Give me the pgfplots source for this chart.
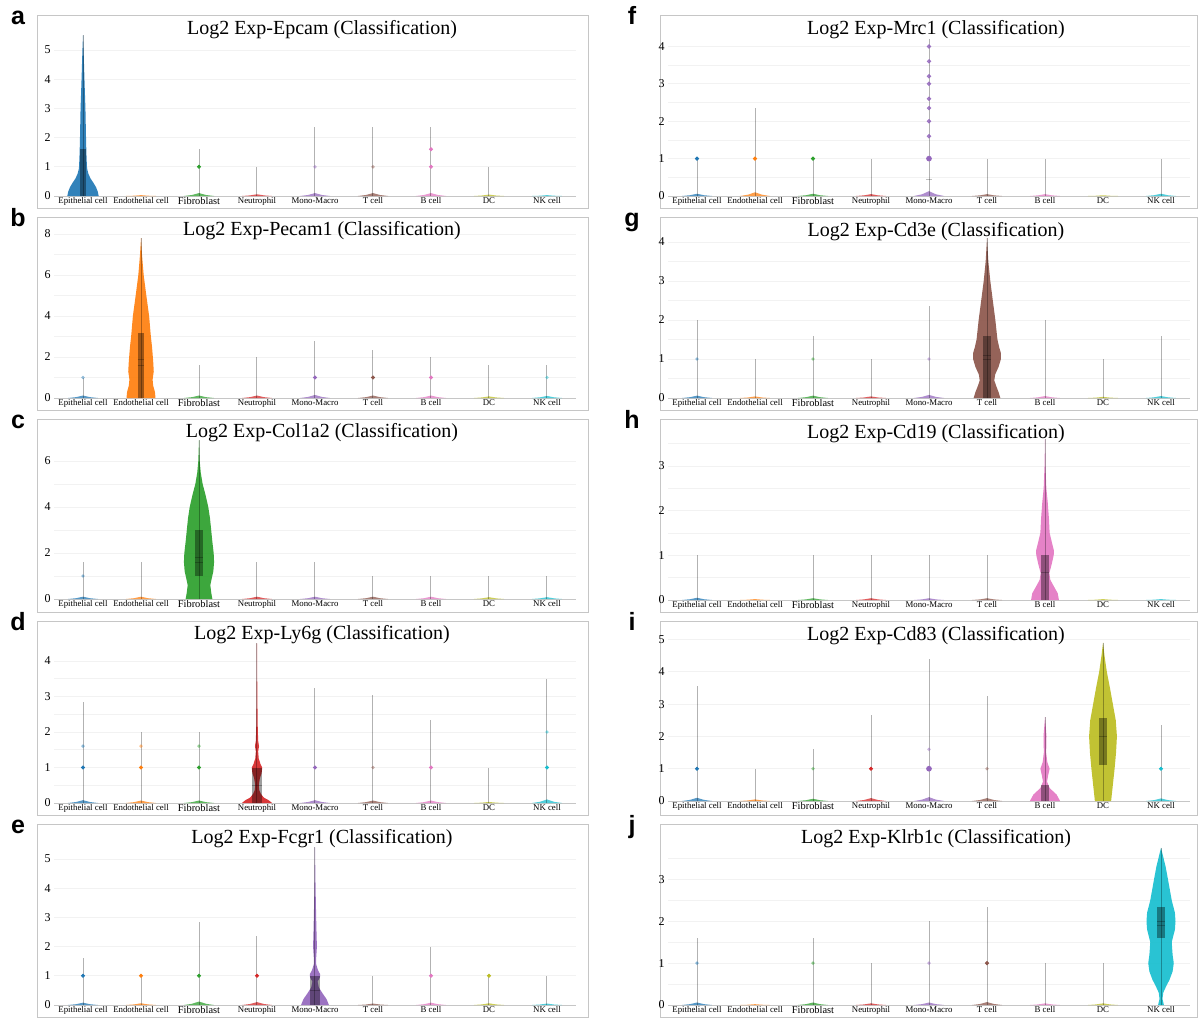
\documentclass[border=0pt]{standalone}
\usepackage{fontspec}
\setmainfont{Liberation Serif}
\newfontfamily\lsans{Liberation Sans}
\usepackage{pgfplots}
\usepackage{pgfplotstable}
\pgfplotsset{compat=1.18}
\definecolor{cA}{HTML}{1F77B4}
\definecolor{cB}{HTML}{FF7F0E}
\definecolor{cC}{HTML}{2CA02C}
\definecolor{cD}{HTML}{D62728}
\definecolor{cE}{HTML}{9467BD}
\definecolor{cF}{HTML}{8C564B}
\definecolor{cG}{HTML}{E377C2}
\definecolor{cH}{HTML}{BCBD22}
\definecolor{cI}{HTML}{17BECF}

% small flat violin template
\pgfplotstableread{
w h
-0.26 0
-0.12 0.35
0 1
0.12 0.35
0.26 0
}\vS
\pgfplotstableread{
y w
0 0
0 0.27
0.15 0.255
0.3 0.225
0.45 0.18
0.6 0.13
0.75 0.095
0.9 0.075
1.0 0.068
1.5 0.058
2.0 0.052
3.0 0.042
4.0 0.025
5.0 0.01
5.5 0
}\vA
\pgfplotstableread{
y w
0 0
0 0.25
0.3 0.24
0.6 0.21
0.9 0.2
1.3 0.22
1.8 0.21
2.5 0.19
3.0 0.17
4.0 0.14
5.0 0.092
6.0 0.046
7.0 0.017
7.8 0
}\vB
\pgfplotstableread{
y w
0 0
0 0.23
0.3 0.21
0.6 0.195
0.9 0.22
1.2 0.247
1.6 0.26
2.0 0.253
2.5 0.23
3.0 0.21
3.5 0.19
4.0 0.16
4.5 0.115
5.0 0.063
5.5 0.03
6.0 0.012
6.9 0
}\vC
\pgfplotstableread{
y w
0 0
0 0.26
0.08 0.2
0.15 0.12
0.25 0.07
0.35 0.04
0.5 0.03
0.7 0.05
0.85 0.08
1.0 0.09
1.1 0.06
1.25 0.03
1.45 0.02
1.6 0.035
1.75 0.02
2.2 0.012
3.0 0.006
4.5 0
}\vD
\pgfplotstableread{
y w
0 0
0 0.24
0.2 0.2
0.4 0.13
0.6 0.066
0.8 0.045
0.95 0.085
1.05 0.09
1.2 0.05
1.4 0.02
1.6 0.02
2.0 0.033
2.5 0.026
3.0 0.02
4.0 0.01
5.4 0
}\vE
\pgfplotstableread{
y w
0 0
0 0.23
0.15 0.2
0.3 0.16
0.45 0.126
0.6 0.14
0.8 0.2
1.0 0.24
1.15 0.24
1.3 0.21
1.5 0.18
2.0 0.144
2.5 0.1
3.0 0.057
3.5 0.023
4.1 0
}\vG
\pgfplotstableread{
y w
0 0
0 0.24
0.15 0.22
0.3 0.155
0.45 0.092
0.6 0.075
0.8 0.115
1.0 0.15
1.1 0.155
1.25 0.126
1.5 0.08
1.8 0.069
2.2 0.046
2.5 0.023
3.0 0.008
3.6 0
}\vH
\pgfplotstableread{
y w
0 0
0 0.14
0.5 0.17
1.0 0.2
1.5 0.225
2.0 0.24
2.5 0.22
3.0 0.17
3.5 0.12
4.0 0.066
4.5 0.026
4.9 0
}\vI
\pgfplotstableread{
y w
0 0
0 0.26
0.2 0.2
0.4 0.08
0.6 0.035
0.8 0.055
1.0 0.08
1.2 0.04
1.5 0.02
2.0 0.026
2.6 0
}\vIb
\pgfplotstableread{
y w
0 0
0 0.05
0.15 0.025
0.3 0.04
0.45 0.09
0.6 0.146
0.8 0.2
1.0 0.22
1.2 0.2
1.5 0.185
1.8 0.24
2.0 0.25
2.2 0.24
2.5 0.185
3.0 0.12
3.3 0.08
3.6 0.027
3.75 0
}\vJ

\newcommand{\vio}[3]{%
 \addplot[fill=#3, draw=none, fill opacity=0.92] table[x expr={#2+\thisrow{w}}, y=y] {#1};
 \addplot[fill=#3, draw=none, fill opacity=0.92] table[x expr={#2-\thisrow{w}}, y=y] {#1};}
\newcommand{\sv}[3]{%
 \addplot[fill=#2, draw=none, fill opacity=0.75] table[x expr={#1+\thisrow{w}}, y expr={#3*\thisrow{h}}] {\vS};}
\newcommand{\wk}[2]{\addplot[draw=black, opacity=0.3, line width=0.5pt] coordinates {(#1,0) (#1,#2)};}
\newcommand{\dt}[3]{\addplot[only marks, mark=*, mark size=0.8pt, color=#3, mark options={draw=none}] coordinates {(#1,#2)};}
\newcommand{\fdt}[3]{\addplot[only marks, mark=*, mark size=0.7pt, color=#3, opacity=0.35, mark options={draw=none}] coordinates {(#1,#2)};}
\newcommand{\bx}[4]{\addplot[fill=black, fill opacity=0.38, draw=none] coordinates {(#1,#3) (#2,#3) (#2,#4) (#1,#4)};}
\newcommand{\md}[3]{\addplot[draw=black, opacity=0.25, line width=0.3pt] coordinates {(#1,#3) (#2,#3)};}
\newcommand{\base}{\addplot[draw=gray!45, line width=0.5pt] coordinates {(-0.5,0) (8.5,0)};}

\pgfplotsset{vstyle/.style={
  scale only axis, width=261pt, anchor=south west,
  xmin=-0.5, xmax=8.5, ymin=0,
  axis line style={draw=none}, tick style={draw=none}, major tick length=0pt, minor tick length=0pt,
  xtick={0,...,8},
  xticklabels={Epithelial cell, Endothelial cell, {\fontsize{5.2}{6}\selectfont Fibroblast}, Neutrophil, Mono-Macro, T cell, B cell, DC, NK cell},
  x tick label style={font=\fontsize{4.4}{5}\selectfont, inner sep=1pt, yshift=0.5pt},
  y tick label style={font=\fontsize{6}{7}\selectfont, inner sep=1.5pt},
  /pgf/number format/assume math mode=true,
  ymajorgrids, yminorgrids,
  major grid style={draw=gray!10, line width=0.4pt},
  minor grid style={draw=gray!10, line width=0.4pt},
  clip=false}}

\newcommand{\ttl}[3]{\node[font=\fontsize{10}{12}\selectfont] at (#1,#2) {#3};}
\newcommand{\lt}[3]{\node[font=\lsans\bfseries\fontsize{12.5}{14}\selectfont, anchor=base] at (#1,#2) {#3};}

\begin{document}
\begin{tikzpicture}
\path[use as bounding box] (0,0) rectangle (599.5pt,-509pt);
% frames
\foreach \t/\b in {7.5/104, 108.5/205, 209.5/306, 310.5/407.5, 412/508.5}{
  \draw[gray!45, line width=0.5pt] (18.5pt,-\t pt) rectangle (294pt,-\b pt);
  \draw[gray!45, line width=0.5pt] (330pt,-\t pt) rectangle (598.5pt,-\b pt);
}
% ---------- a ----------
\begin{axis}[vstyle, at={(27pt,-98pt)}, y=14.6pt, ymax=5.5, ytick={0,...,5}]
\base
\sv{1}{cB}{0.03}\sv{2}{cC}{0.1}\sv{3}{cD}{0.06}\sv{4}{cE}{0.1}\sv{5}{cF}{0.1}\sv{6}{cG}{0.1}\sv{7}{cH}{0.05}\sv{8}{cI}{0.03}
\vio{\vA}{0}{cA}
\wk{0}{5.5}\wk{2}{1.6}\wk{3}{1.0}\wk{4}{2.35}\wk{5}{2.35}\wk{6}{2.35}\wk{7}{1.0}
\dt{2}{1}{cC}\fdt{4}{1}{cE}\fdt{5}{1}{cF}\dt{6}{1}{cG}\dt{6}{1.6}{cG}
\bx{-0.06}{0.06}{0}{1.6}
\end{axis}
% ---------- b ----------
\begin{axis}[vstyle, at={(27pt,-199pt)}, y=10.25pt, ymax=8, ytick={0,2,...,8}, minor ytick={1,3,5,7}]
\base
\sv{0}{cA}{0.12}\sv{2}{cC}{0.12}\sv{3}{cD}{0.12}\sv{4}{cE}{0.15}\sv{5}{cF}{0.12}\sv{6}{cG}{0.12}\sv{7}{cH}{0.08}\sv{8}{cI}{0.1}
\vio{\vB}{1}{cB}
\wk{1}{7.8}\wk{0}{1.0}\wk{2}{1.6}\wk{3}{2.0}\wk{4}{2.8}\wk{5}{2.35}\wk{6}{2.0}\wk{7}{1.6}\wk{8}{1.6}
\fdt{0}{1}{cA}\dt{4}{1}{cE}\dt{5}{1}{cF}\dt{6}{1}{cG}\fdt{8}{1}{cI}
\bx{0.94}{1.06}{0}{3.15}\md{0.94}{1.06}{1.6}\md{0.94}{1.06}{1.87}
\end{axis}
% ---------- c ----------
\begin{axis}[vstyle, at={(27pt,-299.5pt)}, y=11.5pt, ymax=7, ytick={0,2,4,6}, minor ytick={1,3,5}]
\base
\sv{0}{cA}{0.1}\sv{1}{cB}{0.1}\sv{3}{cD}{0.1}\sv{4}{cE}{0.1}\sv{5}{cF}{0.1}\sv{6}{cG}{0.1}\sv{7}{cH}{0.08}\sv{8}{cI}{0.08}
\vio{\vC}{2}{cC}
\wk{2}{6.9}\wk{0}{1.6}\wk{1}{1.6}\wk{3}{1.6}\wk{4}{1.6}\wk{5}{1.0}\wk{6}{1.0}\wk{7}{1.0}\wk{8}{1.0}
\fdt{0}{1}{cA}
\bx{1.93}{2.07}{1.0}{3.0}\md{1.93}{2.07}{1.6}\md{1.93}{2.07}{1.8}
\end{axis}
% ---------- d ----------
\begin{axis}[vstyle, at={(27pt,-401.5pt)}, y=17.75pt, ymax=4.5, ytick={0,...,4}, minor ytick={0.5,1.5,2.5,3.5}]
\base
\sv{0}{cA}{0.08}\sv{1}{cB}{0.07}\sv{2}{cC}{0.07}\sv{4}{cE}{0.08}\sv{5}{cF}{0.07}\sv{6}{cG}{0.07}\sv{7}{cH}{0.03}\sv{8}{cI}{0.1}
\vio{\vD}{3}{cD}
\wk{3}{4.5}\wk{0}{2.85}\wk{1}{2.0}\wk{2}{2.0}\wk{4}{3.25}\wk{5}{3.05}\wk{6}{2.35}\wk{7}{1.0}\wk{8}{3.5}
\dt{0}{1}{cA}\dt{1}{1}{cB}\dt{2}{1}{cC}\dt{4}{1}{cE}\fdt{5}{1}{cF}\dt{6}{1}{cG}\dt{8}{1}{cI}
\fdt{0}{1.6}{cA}\fdt{1}{1.6}{cB}\fdt{2}{1.6}{cC}\fdt{8}{2}{cI}
\bx{2.915}{3.085}{0}{1.0}\md{2.915}{3.085}{0.5}
\end{axis}
% ---------- e ----------
\begin{axis}[vstyle, at={(27pt,-502.5pt)}, y=14.6pt, ymax=5.5, ytick={0,...,5}]
\base
\sv{0}{cA}{0.08}\sv{1}{cB}{0.06}\sv{2}{cC}{0.12}\sv{3}{cD}{0.1}\sv{5}{cF}{0.05}\sv{6}{cG}{0.08}\sv{7}{cH}{0.06}\sv{8}{cI}{0.05}
\vio{\vE}{4}{cE}
\wk{4}{5.4}\wk{0}{1.6}\wk{1}{1.0}\wk{2}{2.85}\wk{3}{2.35}\wk{5}{1.0}\wk{6}{2.0}\wk{7}{1.0}\wk{8}{1.0}
\dt{0}{1}{cA}\dt{1}{1}{cB}\dt{2}{1}{cC}\dt{3}{1}{cD}\dt{6}{1}{cG}\dt{7}{1}{cH}
\bx{3.92}{4.08}{0}{1.0}\md{3.92}{4.08}{0.5}
\end{axis}
% ---------- f ----------
\begin{axis}[vstyle, at={(334pt,-98pt)}, y=18.7pt, ymax=4.2, ytick={0,...,4}, minor ytick={0.5,1.5,2.5,3.5}]
\base
\sv{0}{cA}{0.06}\sv{1}{cB}{0.1}\sv{2}{cC}{0.06}\sv{3}{cD}{0.05}\sv{4}{cE}{0.13}\sv{5}{cF}{0.05}\sv{6}{cG}{0.05}\sv{7}{cH}{0.02}\sv{8}{cI}{0.06}
\wk{0}{1}\wk{1}{2.35}\wk{2}{1}\wk{3}{1}\wk{4}{4.2}\wk{5}{1}\wk{6}{1}\wk{8}{1}
\dt{0}{1}{cA}\dt{1}{1}{cB}\dt{2}{1}{cC}
\addplot[only marks, mark=*, mark size=1.2pt, color=cE, mark options={draw=none}] coordinates {(4,1.0)};
\addplot[only marks, mark=*, mark size=0.9pt, color=cE, opacity=0.8, mark options={draw=none}] coordinates {(4,1.6) (4,2.0) (4,2.35) (4,2.6) (4,3.0) (4,3.2) (4,3.6) (4,4.0)};
\md{3.95}{4.05}{0.45}
\end{axis}
% ---------- g ----------
\begin{axis}[vstyle, at={(334pt,-199pt)}, y=19.5pt, ymax=4.1, ytick={0,...,4}, minor ytick={0.5,1.5,2.5,3.5}]
\base
\sv{0}{cA}{0.06}\sv{1}{cB}{0.04}\sv{2}{cC}{0.06}\sv{3}{cD}{0.04}\sv{4}{cE}{0.08}\sv{6}{cG}{0.05}\sv{7}{cH}{0.03}\sv{8}{cI}{0.05}
\vio{\vG}{5}{cF}
\wk{5}{4.1}\wk{0}{2.0}\wk{1}{1.0}\wk{2}{1.6}\wk{3}{1.0}\wk{4}{2.35}\wk{6}{2.0}\wk{7}{1.0}\wk{8}{1.6}
\fdt{0}{1}{cA}\fdt{2}{1}{cC}\fdt{4}{1}{cE}
\bx{4.93}{5.07}{0}{1.58}\md{4.93}{5.07}{0.98}\md{4.93}{5.07}{1.1}
\end{axis}
% ---------- h ----------
\begin{axis}[vstyle, at={(334pt,-300pt)}, y=22.35pt, ymax=3.6, ytick={0,...,3}, minor ytick={0.5,1.5,2.5,3.5}]
\base
\sv{0}{cA}{0.05}\sv{1}{cB}{0.02}\sv{2}{cC}{0.04}\sv{3}{cD}{0.04}\sv{4}{cE}{0.04}\sv{5}{cF}{0.04}\sv{7}{cH}{0.02}\sv{8}{cI}{0.02}
\vio{\vH}{6}{cG}
\wk{6}{3.6}\wk{0}{1}\wk{2}{1}\wk{3}{1}\wk{4}{1}\wk{5}{1}
\bx{5.928}{6.072}{0}{1.0}\md{5.928}{6.072}{0.63}
\end{axis}
% ---------- i ----------
\begin{axis}[vstyle, at={(334pt,-400.5pt)}, y=16.15pt, ymax=5, ytick={0,...,5}]
\base
\sv{0}{cA}{0.1}\sv{1}{cB}{0.05}\sv{2}{cC}{0.07}\sv{3}{cD}{0.09}\sv{4}{cE}{0.12}\sv{5}{cF}{0.09}\sv{8}{cI}{0.08}
\vio{\vIb}{6}{cG}
\vio{\vI}{7}{cH}
\wk{0}{3.55}\wk{1}{1.0}\wk{2}{1.6}\wk{3}{2.65}\wk{4}{4.4}\wk{5}{3.25}\wk{6}{2.6}\wk{7}{4.9}\wk{8}{2.35}
\dt{0}{1}{cA}\fdt{2}{1}{cC}\dt{3}{1}{cD}\fdt{5}{1}{cF}\dt{8}{1}{cI}\fdt{4}{1.6}{cE}
\addplot[only marks, mark=*, mark size=1.2pt, color=cE, mark options={draw=none}] coordinates {(4,1.0)};
\bx{5.93}{6.07}{0}{0.5}
\bx{6.934}{7.066}{1.13}{2.57}\md{6.934}{7.066}{2.0}
\end{axis}
% ---------- j ----------
\begin{axis}[vstyle, at={(334pt,-502.5pt)}, y=20.95pt, ymax=3.8, ytick={0,...,3}, minor ytick={0.5,1.5,2.5,3.5}]
\base
\sv{0}{cA}{0.06}\sv{1}{cB}{0.02}\sv{2}{cC}{0.06}\sv{3}{cD}{0.04}\sv{4}{cE}{0.06}\sv{5}{cF}{0.07}\sv{6}{cG}{0.04}\sv{7}{cH}{0.04}
\vio{\vJ}{8}{cI}
\wk{0}{1.6}\wk{2}{1.6}\wk{3}{1.0}\wk{4}{2.0}\wk{5}{2.35}\wk{6}{1.0}\wk{7}{1.0}\wk{8}{3.75}
\fdt{0}{1}{cA}\fdt{2}{1}{cC}\fdt{4}{1}{cE}\dt{5}{1}{cF}
\bx{7.934}{8.066}{1.59}{2.33}\md{7.934}{8.066}{1.9}\md{7.934}{8.066}{2.0}
\end{axis}
% titles
\ttl{161pt}{-15pt}{Log2 Exp-Epcam (Classification)}
\ttl{161pt}{-115.5pt}{Log2 Exp-Pecam1 (Classification)}
\ttl{161pt}{-216.5pt}{Log2 Exp-Col1a2 (Classification)}
\ttl{161pt}{-317.5pt}{Log2 Exp-Ly6g (Classification)}
\ttl{161pt}{-419.5pt}{Log2 Exp-Fcgr1 (Classification)}
\ttl{468pt}{-15pt}{Log2 Exp-Mrc1 (Classification)}
\ttl{468pt}{-116pt}{Log2 Exp-Cd3e (Classification)}
\ttl{468pt}{-217pt}{Log2 Exp-Cd19 (Classification)}
\ttl{468pt}{-318pt}{Log2 Exp-Cd83 (Classification)}
\ttl{468pt}{-419.5pt}{Log2 Exp-Klrb1c (Classification)}
% letters
\lt{9pt}{-12pt}{a}\lt{9pt}{-113pt}{b}\lt{9pt}{-214pt}{c}\lt{9pt}{-315pt}{d}\lt{9pt}{-416.5pt}{e}
\lt{316pt}{-12pt}{f}\lt{316pt}{-113pt}{g}\lt{316pt}{-214pt}{h}\lt{316pt}{-315pt}{i}\lt{316pt}{-416.5pt}{j}
\end{tikzpicture}
\end{document}
